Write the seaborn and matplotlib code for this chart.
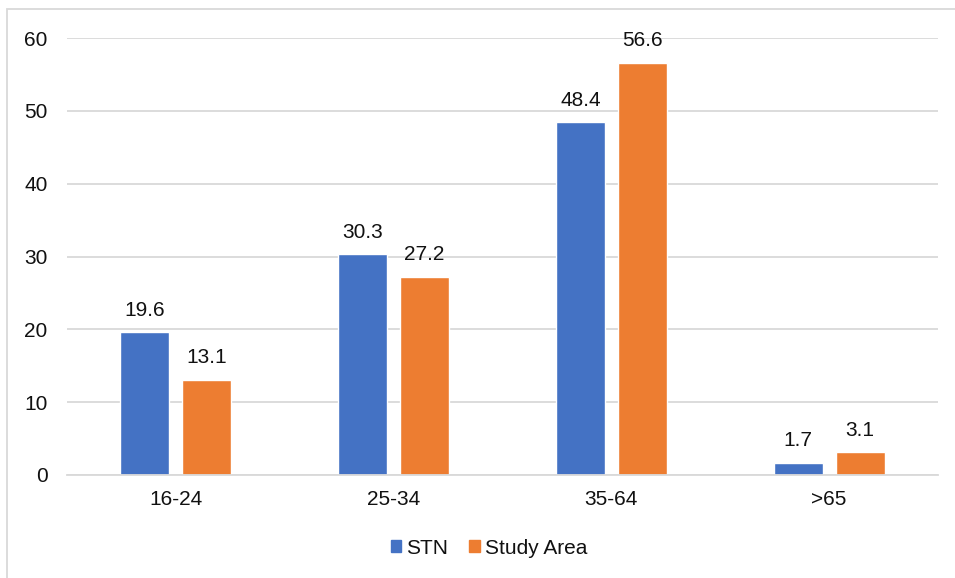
import matplotlib
matplotlib.use("Agg")
import matplotlib.pyplot as plt
from matplotlib.patches import Rectangle
import seaborn as sns
import pandas as pd

categories = ["16-24", "25-34", "35-64", ">65"]
series_names = ["STN", "Study Area"]
stn_values = [19.6, 30.3, 48.4, 1.7]
study_area_values = [13.1, 27.2, 56.6, 3.1]
y_ticks = [0, 10, 20, 30, 40, 50, 60]

colors = {"STN": "#4472C4", "Study Area": "#ED7D31"}

df = pd.DataFrame({
    "age": categories * 2,
    "series": [series_names[0]] * len(categories) + [series_names[1]] * len(categories),
    "value": stn_values + study_area_values,
})

sns.set_theme(style="white")
plt.rcParams["font.family"] = ["Liberation Sans", "DejaVu Sans"]

W, H = 955, 578
FS = 15
TXT = "#111111"
fig = plt.figure(figsize=(W / 100, H / 100), dpi=100)
ax = fig.add_axes([67 / W, 1 - 475 / H, (938 - 67) / W, (475 - 38) / H])

sns.barplot(data=df, x="age", y="value", hue="series", order=categories,
            hue_order=series_names, palette=colors, width=0.57, gap=0.21,
            ax=ax, legend=False, saturation=1)

for container in ax.containers:
    ax.bar_label(container, fmt="%.1f", padding=9, fontsize=FS, color=TXT)

ax.set_ylim(0, 60)
ax.set_yticks(y_ticks)
ax.set_xlim(-0.5, len(categories) - 0.5)
ax.yaxis.grid(True, color="#d9d9d9", linewidth=1.3)
ax.set_axisbelow(True)
for side in ["left", "right", "top"]:
    ax.spines[side].set_visible(False)
ax.spines["bottom"].set_color("#d9d9d9")
ax.spines["bottom"].set_linewidth(1.3)
ax.tick_params(axis="both", length=0, labelsize=FS, colors=TXT)
ax.tick_params(axis="y", pad=14)
ax.tick_params(axis="x", pad=11)
ax.set_xlabel("")
ax.set_ylabel("")

handles = [Rectangle((0, 0), 1, 1, color=colors[s]) for s in series_names]
fig.legend(handles, series_names, loc="center", bbox_to_anchor=(489 / W, 1 - 548 / H),
           ncol=2, frameon=False, fontsize=FS, handlelength=0.5, handleheight=0.5,
           handletextpad=0.25, columnspacing=1.0, labelcolor=TXT)

# outer chart frame
fig.patches.append(Rectangle((7 / W, -0.1), 1.2, 1 - 9 / H + 0.1, transform=fig.transFigure,
                             fill=False, edgecolor="#d9d9d9", linewidth=1.3, zorder=0))

fig.savefig("out.png", dpi=100)
